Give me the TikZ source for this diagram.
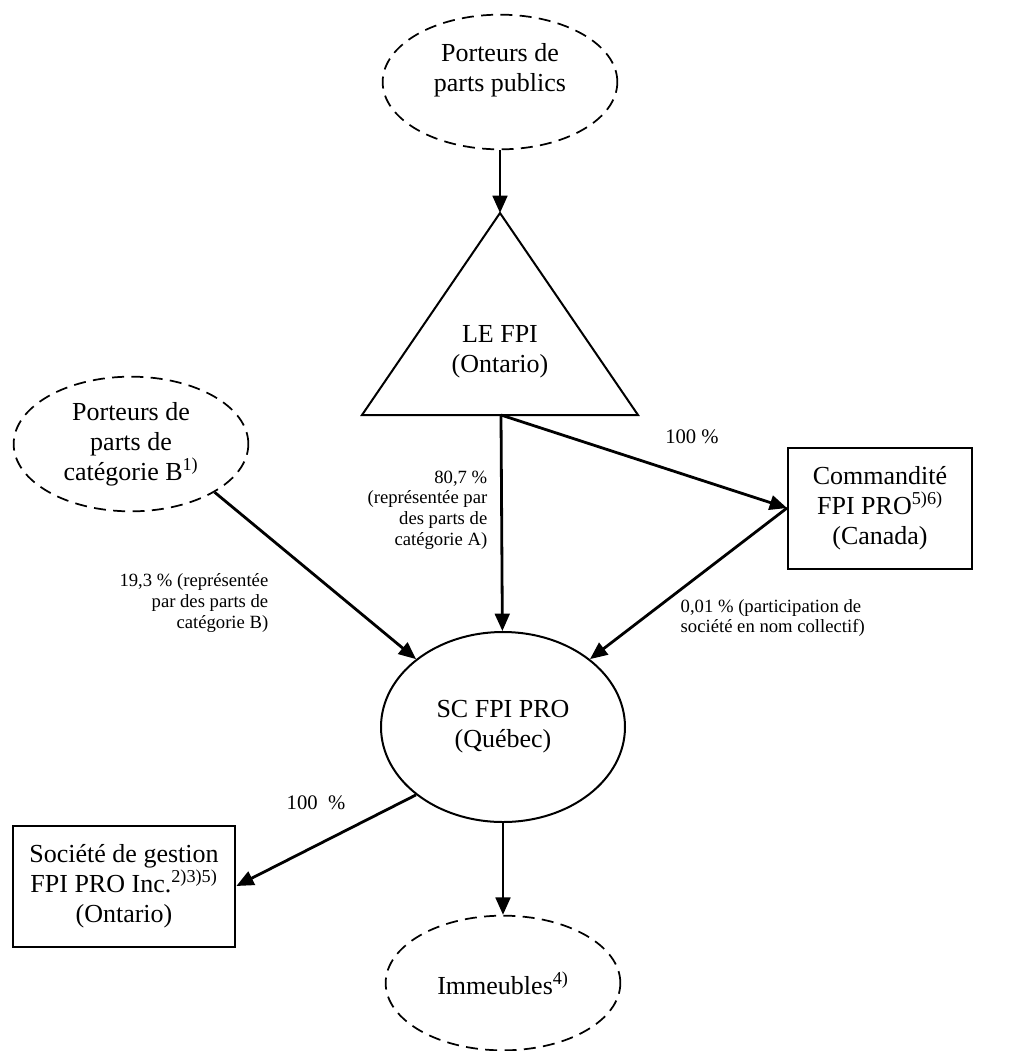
\documentclass[tikz,border=0pt]{standalone}
\usepackage{fontspec}
\setmainfont{Liberation Serif}
\usetikzlibrary{shapes.geometric, arrows.meta}

\begin{document}
\begin{tikzpicture}[
        x=0.75pt,
        y=-0.75pt,
        every node/.style={
            align=center,
            font=\fontsize{19.5}{22.5}\selectfont
        },
        holder/.style={
            ellipse,
            draw,
            dash pattern=on 9pt off 5.5pt,
            line width=1.3pt,
            minimum width=176pt,
            minimum height=101pt,
            inner sep=0pt
        },
        entity/.style={
            rectangle,
            draw,
            line width=1.5pt,
            minimum height=90.75pt,
            inner sep=0pt
        },
        share/.style={
            font=\fontsize{14}{15.4}\selectfont
        },
        pct/.style={
            font=\fontsize{15.5}{17}\selectfont
        },
        arrow/.style={
            -{Triangle[length=13pt, width=11pt]},
            line width=2.1pt
        }
    ]

        \useasboundingbox (0,0) rectangle (1013,1051);

        \node[holder] (pub) at (500,82) {};
        \node (pubtext) at (500,70) {Porteurs de\\parts publics};

        \coordinate (fpi apex) at (500,213);
        \coordinate (fpi base) at (501,415);
        \draw[line width=1.5pt, line join=miter] (fpi apex) -- (638,415) -- (362,415) -- cycle;
        \node (fpi) at (500,352) {LE FPI\\(Ontario)};

        \node[holder] (pb) at (131,444) {Porteurs de\\parts de\\catégorie B\textsuperscript{1)}};
        \node[entity, minimum width=138pt] (cmd) at (880,508) {Commandité\\FPI PRO\textsuperscript{5)6)}\\(Canada)};
        \node[ellipse, draw, line width=1.5pt, minimum width=183pt, minimum height=142.5pt, inner sep=0pt] (sc) at (503,727) {SC FPI PRO\\(Québec)};
        \node[entity, minimum width=167pt] (soc) at (124,886) {Société de gestion\\FPI PRO Inc.\textsuperscript{2)3)5)}\\(Ontario)};
        \node[holder] (imm) at (503,983) {Immeubles\textsuperscript{4)}};

        \node[share, align=right, anchor=east] (lbla) at (492,510) {80,7 \%\\(représentée par\\des parts de\\catégorie A)};
        \node[share, align=right, anchor=east] (lblb) at (273,603) {19,3 \% (représentée\\par des parts de\\catégorie B)};
        \node[share, align=left, anchor=west] (lblgp) at (676,618) {0,01 \% (participation de\\société en nom collectif)};
        \node[pct] (lblcmd) at (692,437) {100 \%};
        \node[pct] (lblsoc) at (316,803) {100\ \ \%};

        \draw[arrow] (pub) -- (fpi apex);
        \draw[arrow] (fpi base) -- (sc);
        \draw[arrow] (fpi base) -- (cmd.west);
        \draw[arrow] (pb.south east) -- (sc.north west);
        \draw[arrow] (cmd.west) -- (sc.north east);
        \draw[arrow] (sc.south west) -- (soc.east);
        \draw[arrow] (sc) -- (imm);

    \end{tikzpicture}
\end{document}
